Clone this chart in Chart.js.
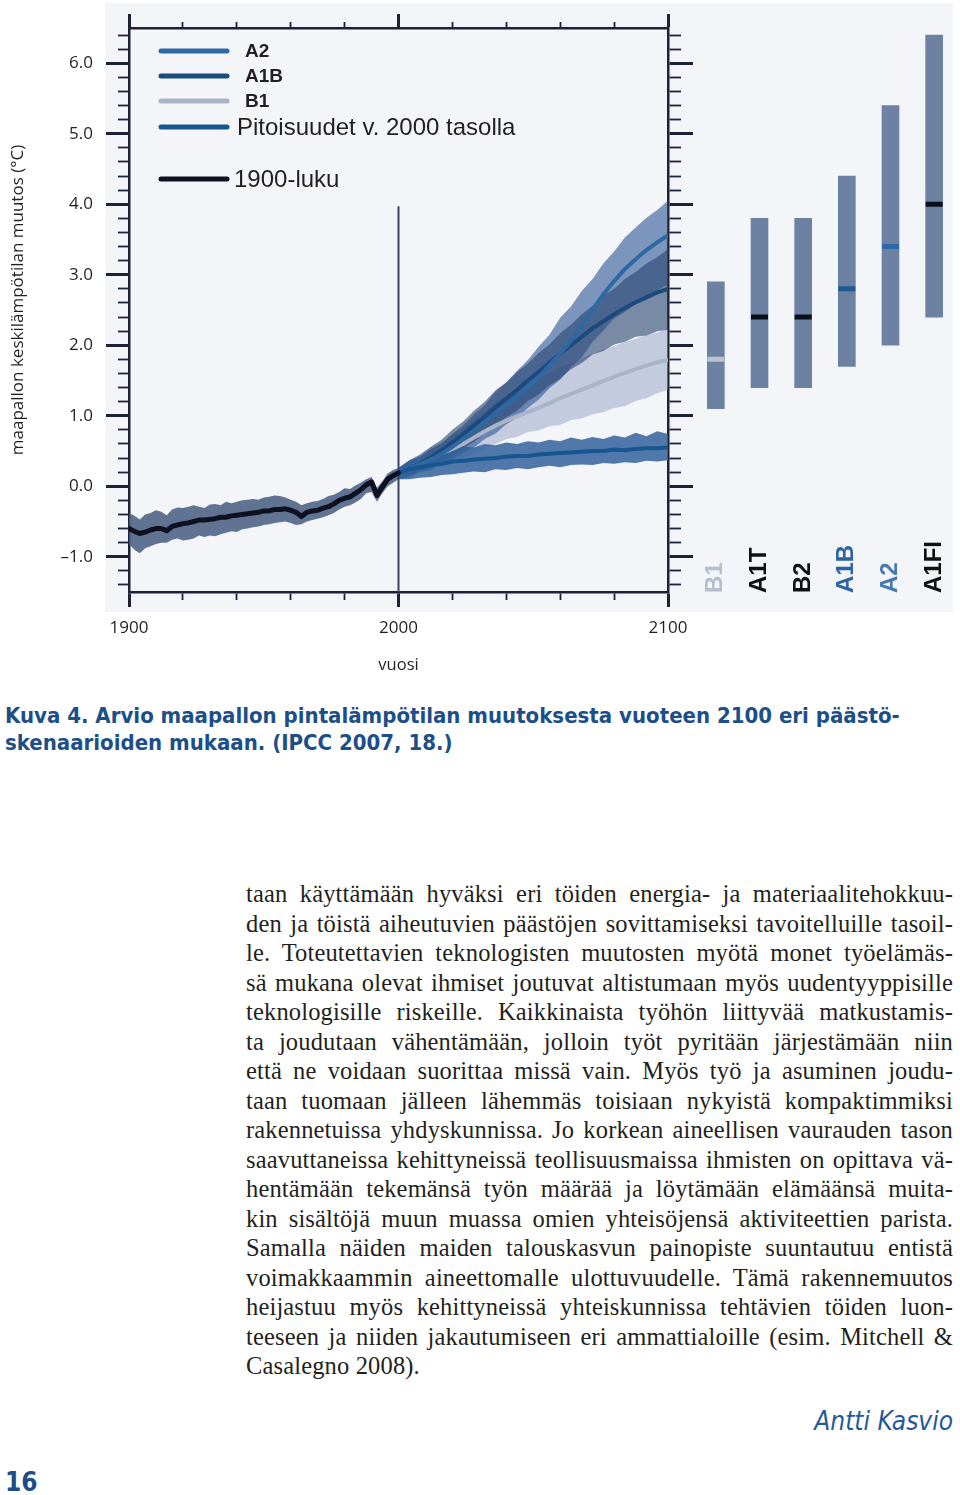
<!DOCTYPE html>
<html lang="fi">
<head>
<meta charset="utf-8">
<title>Kuva 4</title>
<script src="https://cdn.jsdelivr.net/npm/chart.js@4.4.1/dist/chart.umd.min.js"></script>
<style>
  body { margin: 0; width: 960px; height: 1495px; position: relative; background: #fff; overflow: hidden; }
  #panel { position: absolute; left: 105px; top: 3px; width: 848px; height: 609px; background: #f3f5f8; }
  #tempChart { position: absolute; left: 0; top: 0; }
  #rangeChart { position: absolute; left: 694px; top: 0; }
  .caption { position: absolute; left: 5px; top: 702px; color: #1c4f8a; font-weight: bold; font-size: 22px; line-height: 27px;
             font-family: "Liberation Sans Narrow", "DejaVu Sans Condensed", sans-serif; font-stretch: condensed; white-space: nowrap; }
  .text { position: absolute; left: 246px; top: 879px; width: 707px; color: #231f20; letter-spacing: 0.15px;
          font-family: "Liberation Serif", serif; font-size: 24.5px; line-height: 29.5px; }
  .text .ln { text-align: justify; text-align-last: justify; height: 29.5px; }
  .text .ln.last { text-align-last: left; }
  .author { position: absolute; right: 7px; top: 1406px; color: #1f5a9b; font-style: italic; font-size: 26px;
            font-family: "Liberation Sans Narrow", "DejaVu Sans Condensed", sans-serif; font-stretch: condensed; }
  .pagenum { position: absolute; left: 5px; top: 1467px; color: #1b4e88; font-weight: bold; font-size: 26px;
             font-family: "Liberation Sans Narrow", "DejaVu Sans Condensed", sans-serif; font-stretch: condensed; }
</style>
</head>
<body>
<div id="panel"></div>
<canvas id="tempChart" width="700" height="680"></canvas>
<canvas id="rangeChart" width="262" height="612"></canvas>

<div class="caption">Kuva 4. Arvio maapallon pintalämpötilan muutoksesta vuoteen 2100 eri päästö-<br>skenaarioiden mukaan. (IPCC 2007, 18.)</div>

<div class="text">
  <div class="ln">taan käyttämään hyväksi eri töiden energia- ja materiaalitehokkuu-</div>
  <div class="ln">den ja töistä aiheutuvien päästöjen sovittamiseksi tavoitelluille tasoil-</div>
  <div class="ln">le. Toteutettavien teknologisten muutosten myötä monet työelämäs-</div>
  <div class="ln">sä mukana olevat ihmiset joutuvat altistumaan myös uudentyyppisille</div>
  <div class="ln">teknologisille riskeille. Kaikkinaista työhön liittyvää matkustamis-</div>
  <div class="ln">ta joudutaan vähentämään, jolloin työt pyritään järjestämään niin</div>
  <div class="ln">että ne voidaan suorittaa missä vain. Myös työ ja asuminen joudu-</div>
  <div class="ln">taan tuomaan jälleen lähemmäs toisiaan nykyistä kompaktimmiksi</div>
  <div class="ln">rakennetuissa yhdyskunnissa. Jo korkean aineellisen vaurauden tason</div>
  <div class="ln">saavuttaneissa kehittyneissä teollisuusmaissa ihmisten on opittava vä-</div>
  <div class="ln">hentämään tekemänsä työn määrää ja löytämään elämäänsä muita-</div>
  <div class="ln">kin sisältöjä muun muassa omien yhteisöjensä aktiviteettien parista.</div>
  <div class="ln">Samalla näiden maiden talouskasvun painopiste suuntautuu entistä</div>
  <div class="ln">voimakkaammin aineettomalle ulottuvuudelle. Tämä rakennemuutos</div>
  <div class="ln">heijastuu myös kehittyneissä yhteiskunnissa tehtävien töiden luon-</div>
  <div class="ln">teeseen ja niiden jakautumiseen eri ammattialoille (esim. Mitchell &amp;</div>
  <div class="ln last">Casalegno 2008).</div>
</div>

<div class="author">Antti Kasvio</div>
<div class="pagenum">16</div>

<script>
// 1900-luku: havaittu keskiarvo ja vaihteluväli (luettu kuvasta, 2 v välein)
const histYears = [1900, 1902, 1904, 1906, 1908, 1910, 1912, 1914, 1916, 1918,
    1920, 1922, 1924, 1926, 1928, 1930, 1932, 1934, 1936, 1938,
    1940, 1942, 1944, 1946, 1948, 1950, 1952, 1954, 1956, 1958,
    1960, 1962, 1964, 1966, 1968, 1970, 1972, 1974, 1976, 1978,
    1980, 1982, 1984, 1986, 1988, 1990, 1992, 1994, 1996, 1998, 2000];
const histMean = [-0.60, -0.64, -0.67, -0.65, -0.62, -0.60, -0.60, -0.63, -0.57, -0.55,
    -0.53, -0.52, -0.50, -0.48, -0.48, -0.47, -0.46, -0.44, -0.44, -0.42,
    -0.41, -0.40, -0.39, -0.38, -0.37, -0.35, -0.35, -0.33, -0.33, -0.32,
    -0.34, -0.37, -0.43, -0.37, -0.35, -0.34, -0.31, -0.29, -0.25, -0.20,
    -0.17, -0.15, -0.10, -0.05, 0.02, 0.06, -0.13, -0.01, 0.10, 0.15, 0.19];
const histUpper = [-0.38, -0.42, -0.47, -0.40, -0.38, -0.34, -0.36, -0.41, -0.33, -0.30,
    -0.31, -0.29, -0.27, -0.29, -0.31, -0.26, -0.25, -0.27, -0.22, -0.24,
    -0.22, -0.20, -0.19, -0.18, -0.19, -0.16, -0.15, -0.13, -0.14, -0.16,
    -0.19, -0.22, -0.27, -0.24, -0.22, -0.21, -0.18, -0.14, -0.12, -0.08,
    -0.03, -0.04, 0.01, 0.05, 0.10, 0.13, -0.02, 0.07, 0.18, 0.23, 0.26];
const histLower = [-0.82, -0.90, -0.95, -0.88, -0.85, -0.82, -0.80, -0.80, -0.76, -0.74,
    -0.77, -0.76, -0.74, -0.70, -0.72, -0.70, -0.71, -0.68, -0.66, -0.64,
    -0.65, -0.61, -0.60, -0.58, -0.57, -0.55, -0.54, -0.52, -0.51, -0.50,
    -0.52, -0.55, -0.54, -0.50, -0.48, -0.46, -0.44, -0.41, -0.38, -0.33,
    -0.29, -0.27, -0.23, -0.18, -0.10, -0.08, -0.22, -0.10, 0.00, 0.05, 0.10];

// skenaariot 2000-2100 (4 v välein)
const futureYears = [2000, 2004, 2008, 2012, 2016, 2020, 2024, 2028, 2032, 2036, 2040, 2044, 2048,
    2052, 2056, 2060, 2064, 2068, 2072, 2076, 2080, 2084, 2088, 2092, 2096, 2100];

const commMean  = [0.19, 0.24, 0.27, 0.30, 0.32, 0.35, 0.36, 0.38, 0.39, 0.40, 0.42, 0.43, 0.43,
    0.45, 0.46, 0.47, 0.48, 0.49, 0.50, 0.50, 0.52, 0.51, 0.53, 0.54, 0.54, 0.55];
const commUpper = [0.26, 0.36, 0.42, 0.45, 0.50, 0.52, 0.56, 0.55, 0.60, 0.58, 0.62, 0.60, 0.64,
    0.62, 0.66, 0.64, 0.69, 0.66, 0.70, 0.67, 0.72, 0.69, 0.76, 0.71, 0.78, 0.74];
const commLower = [0.10, 0.10, 0.12, 0.13, 0.16, 0.17, 0.19, 0.21, 0.20, 0.24, 0.23, 0.26, 0.24,
    0.27, 0.29, 0.27, 0.30, 0.31, 0.30, 0.33, 0.32, 0.34, 0.33, 0.36, 0.35, 0.37];

const b1Mean  = [0.19, 0.26, 0.33, 0.40, 0.47, 0.53, 0.60, 0.69, 0.78, 0.86, 0.93, 0.99, 1.05,
    1.11, 1.18, 1.25, 1.31, 1.37, 1.43, 1.49, 1.55, 1.61, 1.66, 1.71, 1.76, 1.79];
const b1Upper = [0.26, 0.36, 0.44, 0.55, 0.62, 0.73, 0.82, 0.95, 1.06, 1.19, 1.28, 1.38, 1.44,
    1.54, 1.60, 1.69, 1.74, 1.82, 1.88, 1.94, 1.99, 2.05, 2.09, 2.15, 2.18, 2.24];
const b1Lower = [0.10, 0.15, 0.22, 0.25, 0.32, 0.34, 0.41, 0.46, 0.55, 0.60, 0.67, 0.70, 0.77,
    0.79, 0.85, 0.87, 0.94, 0.96, 1.02, 1.05, 1.11, 1.14, 1.21, 1.25, 1.32, 1.37];

const a1bMean  = [0.19, 0.26, 0.33, 0.41, 0.51, 0.62, 0.74, 0.86, 0.99, 1.12, 1.24, 1.37, 1.50,
    1.62, 1.75, 1.88, 2.00, 2.12, 2.24, 2.34, 2.44, 2.53, 2.61, 2.68, 2.75, 2.80];
const a1bUpper = [0.26, 0.37, 0.45, 0.56, 0.66, 0.80, 0.92, 1.07, 1.20, 1.36, 1.47, 1.62, 1.74,
    1.89, 2.01, 2.17, 2.29, 2.44, 2.56, 2.70, 2.80, 2.94, 3.04, 3.16, 3.25, 3.36];
const a1bLower = [0.10, 0.14, 0.22, 0.26, 0.36, 0.43, 0.54, 0.63, 0.76, 0.85, 0.98, 1.07, 1.21,
    1.30, 1.43, 1.53, 1.66, 1.75, 1.87, 1.92, 2.01, 2.05, 2.12, 2.14, 2.20, 2.22];

const a2Mean  = [0.19, 0.25, 0.31, 0.38, 0.46, 0.56, 0.67, 0.79, 0.91, 1.03, 1.15, 1.27, 1.40,
    1.55, 1.71, 1.88, 2.06, 2.28, 2.50, 2.72, 2.91, 3.08, 3.22, 3.35, 3.46, 3.56];
const a2Upper = [0.26, 0.36, 0.42, 0.53, 0.61, 0.74, 0.86, 1.02, 1.15, 1.34, 1.47, 1.64, 1.79,
    1.98, 2.15, 2.39, 2.55, 2.77, 2.94, 3.16, 3.33, 3.53, 3.67, 3.81, 3.92, 4.05];
const a2Lower = [0.10, 0.13, 0.20, 0.23, 0.32, 0.38, 0.48, 0.55, 0.67, 0.75, 0.88, 0.97, 1.11,
    1.23, 1.39, 1.51, 1.69, 1.83, 2.05, 2.21, 2.38, 2.47, 2.59, 2.67, 2.78, 2.86];

// pystyviiva vuoden 2000 kohdalla
const refLineYear = 2000;
const refLineTop = 3.97;

// akselit
const yTickValues = [-1, 0, 1, 2, 3, 4, 5, 6];
const yTickLabels = ['–1.0', '0.0', '1.0', '2.0', '3.0', '4.0', '5.0', '6.0'];
const xTickValues = [1900, 2000, 2100];
const xTickLabels = ['1900', '2000', '2100'];
const yTitle = 'maapallon keskilämpötilan muutos (°C)';

// oikean reunan palkit: todennäköinen vaihteluväli ja paras arvio v. 2100
const scenarioNames = ['B1', 'A1T', 'B2', 'A1B', 'A2', 'A1FI'];
const scenarioLow  = [1.1, 1.4, 1.4, 1.7, 2.0, 2.4];
const scenarioHigh = [2.9, 3.8, 3.8, 4.4, 5.4, 6.4];
const scenarioBest = [1.8, 2.4, 2.4, 2.8, 3.4, 4.0];

const legendLabels = ['A2', 'A1B', 'B1', 'Pitoisuudet v. 2000 tasolla', '1900-luku'];

const AXIS = '#1c2237';
const TEXT = '#231f20';
const FONT = '"Open Sans", "DejaVu Sans", sans-serif';

const colors = {
    hist: '#0d1120', histBand: 'rgba(70, 92, 128, 0.85)',
    comm: '#18568f', commBand: 'rgba(50, 98, 158, 0.85)',
    b1: '#a9b4c8', b1Band: 'rgba(150, 162, 198, 0.5)',
    a1b: '#1b4a7c', a1bBand: 'rgba(40, 66, 110, 0.6)',
    a2: '#2e69a4', a2Band: 'rgba(45, 85, 150, 0.6)',
    ref: '#39445e', bar: '#6d82a3'
};
const bestColors = ['#b9c3d4', '#0b0f1c', '#0b0f1c', '#1f5a92', '#2d68a6', '#0b0f1c'];
const nameColors = ['#b4bfd0', '#111111', '#111111', '#2b65a3', '#4579b3', '#111111'];

const yMinorTicks = [];
for (let k = -14; k <= 64; k += 2) yMinorTicks.push(k / 10);

function toPoints(xs, ys) {
    return xs.map((x, i) => ({ x: x, y: ys[i] }));
}

// kaista = yläraja (näkymätön) + alaraja, joka täytetään edelliseen
function band(upper, lower, xs, color, order) {
    return [
        { data: toPoints(xs, upper), borderWidth: 0, pointRadius: 0, fill: false, order: order + 1 },
        { data: toPoints(xs, lower), borderWidth: 0, pointRadius: 0, fill: '-1', backgroundColor: color, order: order }
    ];
}

function meanLine(xs, ys, color, width, order) {
    return { data: toPoints(xs, ys), borderColor: color, borderWidth: width, pointRadius: 0,
             fill: false, order: order, borderJoinStyle: 'round', borderCapStyle: 'round' };
}

const isMajorX = v => v % 100 === 0;
const isMajorY = v => Math.abs(v - Math.round(v)) < 1e-6;

// pienet väliviivat: akseli lähinnä kuva-aluetta
function minorAxis(axis, position, tickLength, extra) {
    const major = axis === 'x' ? isMajorX : isMajorY;
    return Object.assign({
        type: 'linear', axis: axis, position: position, weight: 0,
        ticks: { display: false },
        grid: {
            drawOnChartArea: false, tickLength: tickLength, tickColor: AXIS,
            tickWidth: ctx => (ctx.tick && major(ctx.tick.value)) ? 3 : 1.8
        },
        border: { display: true, color: AXIS, width: 2.5 },
        afterFit: s => { if (axis === 'x') s.height = tickLength; else s.width = tickLength; }
    }, extra);
}

// isot väliviivat jatkuvat edellisen akselin ulkopuolelle
function majorAxis(axis, position, tickLength, size, extra) {
    return Object.assign({
        type: 'linear', axis: axis, position: position, weight: 1,
        ticks: { display: false },
        grid: { drawOnChartArea: false, tickLength: tickLength, tickColor: AXIS, tickWidth: 3 },
        border: { display: false },
        afterFit: s => { if (axis === 'x') s.height = size; else s.width = size; }
    }, extra);
}

const xRange = { min: 1900, max: 2100 };
const yRange = { min: -1.5, max: 6.5 };
const setYMinor = s => { s.ticks = yMinorTicks.map(v => ({ value: v })); };
const setYMajor = s => { s.ticks = yTickValues.map(v => ({ value: v })); };

const legendPlugin = {
    id: 'insideLegend',
    afterDraw(chart) {
        const { ctx, chartArea } = chart;
        const rows = [
            { color: colors.a2, y: 51, tx: 116, bold: true },
            { color: colors.a1b, y: 76, tx: 116, bold: true },
            { color: colors.b1, y: 101, tx: 116, bold: true },
            { color: colors.comm, y: 127, tx: 108, bold: false },
            { color: colors.hist, y: 179, tx: 105, bold: false }
        ];
        ctx.save();
        ctx.lineCap = 'round';
        ctx.textBaseline = 'middle';
        rows.forEach((r, i) => {
            const x0 = chartArea.left;
            ctx.strokeStyle = r.color;
            ctx.lineWidth = 5;
            ctx.beginPath();
            ctx.moveTo(x0 + 32, r.y);
            ctx.lineTo(x0 + 98, r.y);
            ctx.stroke();
            ctx.fillStyle = TEXT;
            ctx.font = r.bold ? 'bold 19px "Liberation Sans", Arial, sans-serif'
                              : '24px "Liberation Sans", Arial, sans-serif';
            ctx.fillText(legendLabels[i], x0 + r.tx, r.y + 1);
        });

        // pystyakselin otsikko
        ctx.save();
        ctx.translate(18, 300);
        ctx.rotate(-Math.PI / 2);
        ctx.textAlign = 'center';
        ctx.font = '17px ' + FONT;
        ctx.fillText(yTitle, 0, 0);
        ctx.restore();
        ctx.restore();
    }
};

new Chart(document.getElementById('tempChart'), {
    type: 'line',
    data: {
        datasets: [
            ...band(histUpper, histLower, histYears, colors.histBand, 30),
            ...band(b1Upper, b1Lower, futureYears, colors.b1Band, 28),
            ...band(a2Upper, a2Lower, futureYears, colors.a2Band, 26),
            ...band(a1bUpper, a1bLower, futureYears, colors.a1bBand, 24),
            ...band(commUpper, commLower, futureYears, colors.commBand, 22),
            { data: [{ x: refLineYear, y: yRange.min }, { x: refLineYear, y: refLineTop }],
              borderColor: colors.ref, borderWidth: 2, pointRadius: 0, fill: false, order: 12 },
            meanLine(futureYears, b1Mean, colors.b1, 4, 10),
            meanLine(futureYears, a1bMean, colors.a1b, 4, 9),
            meanLine(futureYears, a2Mean, colors.a2, 4, 8),
            meanLine(futureYears, commMean, colors.comm, 4, 7),
            meanLine(histYears, histMean, colors.hist, 5, 6)
        ]
    },
    options: {
        responsive: false,
        animation: false,
        layout: { autoPadding: false, padding: { top: 14, right: 7, bottom: 0, left: 0 } },
        plugins: { legend: { display: false }, tooltip: { enabled: false } },
        scales: {
            x: minorAxis('x', 'bottom', 8, Object.assign({ ticks: { display: false, stepSize: 20 } }, xRange)),
            xLabels: majorAxis('x', 'bottom', 7, 80, Object.assign({
                afterBuildTicks: s => { s.ticks = xTickValues.map(v => ({ value: v })); },
                ticks: { display: true, padding: 11, color: TEXT, font: { family: FONT, size: 17 },
                         autoSkip: false, maxRotation: 0,
                         callback: v => xTickLabels[xTickValues.indexOf(v)] },
                title: { display: true, text: 'vuosi', color: TEXT, font: { family: FONT, size: 16.5 },
                         padding: { top: 4, bottom: 5 } }
            }, xRange)),
            xTop: minorAxis('x', 'top', 6, Object.assign({ ticks: { display: false, stepSize: 20 } }, xRange)),
            xTopMajor: majorAxis('x', 'top', 8, 8, Object.assign({ ticks: { display: false, stepSize: 100 } }, xRange)),
            y: minorAxis('y', 'left', 11, Object.assign({ afterBuildTicks: setYMinor }, yRange)),
            yLabels: majorAxis('y', 'left', 12, 118, Object.assign({
                afterBuildTicks: setYMajor,
                ticks: { display: true, padding: 13, color: TEXT, font: { family: FONT, size: 17 },
                         autoSkip: false, callback: v => yTickLabels[yTickValues.indexOf(v)] }
            }, yRange)),
            yRight: minorAxis('y', 'right', 13, Object.assign({ afterBuildTicks: setYMinor }, yRange)),
            yRightMajor: majorAxis('y', 'right', 12, 12, Object.assign({ afterBuildTicks: setYMajor }, yRange))
        }
    },
    plugins: [legendPlugin]
});

// skenaarionimet pystyyn palkkien alle
const scenarioLabelPlugin = {
    id: 'scenarioLabels',
    afterDraw(chart) {
        const { ctx, chartArea, scales } = chart;
        ctx.save();
        ctx.font = 'bold 24px "Liberation Sans", Arial, sans-serif';
        ctx.textAlign = 'left';
        ctx.textBaseline = 'middle';
        scenarioNames.forEach((name, i) => {
            ctx.save();
            ctx.translate(scales.x.getPixelForValue(i), chartArea.bottom + 1);
            ctx.rotate(-Math.PI / 2);
            ctx.fillStyle = nameColors[i];
            ctx.fillText(name, 0, 0);
            ctx.restore();
        });
        ctx.restore();
    }
};

new Chart(document.getElementById('rangeChart'), {
    type: 'bar',
    data: {
        labels: scenarioNames,
        datasets: [
            { type: 'line', data: scenarioBest, showLine: false, pointStyle: 'line',
              pointRadius: 8.5, pointHoverRadius: 8.5, pointBorderWidth: 5,
              pointBorderColor: bestColors, order: 0 },
            { type: 'bar', data: scenarioNames.map((_, i) => [scenarioLow[i], scenarioHigh[i]]),
              backgroundColor: colors.bar, barThickness: 17, order: 1 }
        ]
    },
    options: {
        responsive: false,
        animation: false,
        layout: { autoPadding: false, padding: { top: 28, bottom: 20, left: 0, right: 0 } },
        plugins: { legend: { display: false }, tooltip: { enabled: false } },
        scales: {
            x: { display: false },
            y: { display: false, min: yRange.min, max: yRange.max }
        }
    },
    plugins: [scenarioLabelPlugin]
});
</script>
</body>
</html>
